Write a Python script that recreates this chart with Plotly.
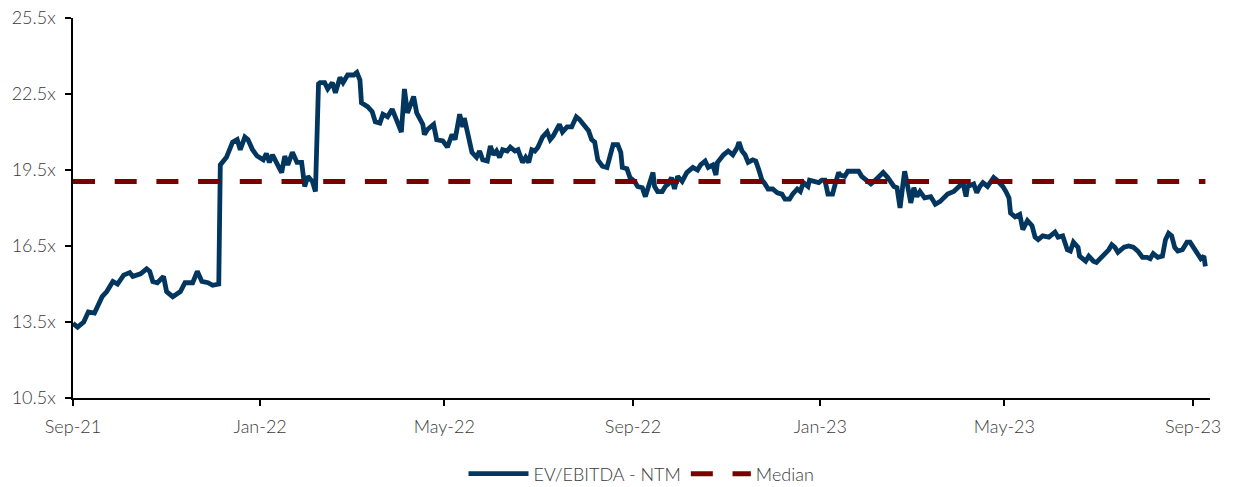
import plotly.graph_objects as go

dates = [
    "2021-09-01", "2021-09-04", "2021-09-08", "2021-09-11", "2021-09-15", "2021-09-20", "2021-09-23",
    "2021-09-27", "2021-09-30", "2021-10-04", "2021-10-08", "2021-10-10", "2021-10-15", "2021-10-19",
    "2021-10-21", "2021-10-23", "2021-10-26", "2021-10-30", "2021-11-01", "2021-11-05", "2021-11-10",
    "2021-11-13", "2021-11-18", "2021-11-21", "2021-11-24", "2021-11-28", "2021-12-01", "2021-12-05",
    "2021-12-06", "2021-12-10", "2021-12-14", "2021-12-17", "2021-12-19", "2021-12-22", "2021-12-24",
    "2021-12-27", "2021-12-30", "2022-01-03", "2022-01-05", "2022-01-07", "2022-01-09", "2022-01-13",
    "2022-01-15", "2022-01-17", "2022-01-19", "2022-01-22", "2022-01-25", "2022-01-28", "2022-01-30",
    "2022-02-01", "2022-02-04", "2022-02-06", "2022-02-08", "2022-02-09", "2022-02-12", "2022-02-14",
    "2022-02-17", "2022-02-19", "2022-02-22", "2022-02-24", "2022-02-27", "2022-03-03", "2022-03-05",
    "2022-03-07", "2022-03-08", "2022-03-12", "2022-03-15", "2022-03-17", "2022-03-20", "2022-03-22",
    "2022-03-25", "2022-03-28", "2022-03-30", "2022-04-01", "2022-04-03", "2022-04-05", "2022-04-07",
    "2022-04-11", "2022-04-13", "2022-04-17", "2022-04-18", "2022-04-20", "2022-04-24", "2022-04-26",
    "2022-04-30", "2022-05-03", "2022-05-06", "2022-05-08", "2022-05-11", "2022-05-13", "2022-05-14",
    "2022-05-17", "2022-05-19", "2022-05-22", "2022-05-24", "2022-05-26", "2022-05-29", "2022-05-31",
    "2022-06-02", "2022-06-04", "2022-06-06", "2022-06-08", "2022-06-11", "2022-06-13", "2022-06-16",
    "2022-06-18", "2022-06-21", "2022-06-23", "2022-06-25", "2022-06-27", "2022-06-29", "2022-07-01",
    "2022-07-04", "2022-07-07", "2022-07-09", "2022-07-11", "2022-07-14", "2022-07-15", "2022-07-17",
    "2022-07-20", "2022-07-23", "2022-07-26", "2022-07-28", "2022-08-01", "2022-08-03", "2022-08-05",
    "2022-08-07", "2022-08-09", "2022-08-12", "2022-08-15", "2022-08-17", "2022-08-19", "2022-08-22",
    "2022-08-24", "2022-08-25", "2022-08-28", "2022-08-30", "2022-09-02", "2022-09-04", "2022-09-07",
    "2022-09-09", "2022-09-11", "2022-09-12", "2022-09-14", "2022-09-15", "2022-09-17", "2022-09-20",
    "2022-09-22", "2022-09-24", "2022-09-26", "2022-09-28", "2022-09-30", "2022-10-03", "2022-10-06",
    "2022-10-10", "2022-10-13", "2022-10-15", "2022-10-18", "2022-10-20", "2022-10-23", "2022-10-25",
    "2022-10-26", "2022-10-30", "2022-11-02", "2022-11-05", "2022-11-08", "2022-11-09", "2022-11-11",
    "2022-11-13", "2022-11-15", "2022-11-18", "2022-11-20", "2022-11-22", "2022-11-24", "2022-11-26",
    "2022-11-28", "2022-12-01", "2022-12-04", "2022-12-07", "2022-12-09", "2022-12-12", "2022-12-14",
    "2022-12-17", "2022-12-19", "2022-12-21", "2022-12-24", "2022-12-25", "2022-12-27", "2022-12-31",
    "2023-01-02", "2023-01-04", "2023-01-06", "2023-01-09", "2023-01-11", "2023-01-13", "2023-01-14",
    "2023-01-17", "2023-01-19", "2023-01-22", "2023-01-26", "2023-01-28", "2023-02-01", "2023-02-03",
    "2023-02-05", "2023-02-08", "2023-02-11", "2023-02-14", "2023-02-16", "2023-02-18", "2023-02-20",
    "2023-02-22", "2023-02-24", "2023-02-25", "2023-02-27", "2023-03-01", "2023-03-03", "2023-03-05",
    "2023-03-07", "2023-03-10", "2023-03-14", "2023-03-17", "2023-03-20", "2023-03-23", "2023-03-25",
    "2023-03-29", "2023-04-01", "2023-04-04", "2023-04-06", "2023-04-07", "2023-04-11", "2023-04-13",
    "2023-04-15", "2023-04-17", "2023-04-20", "2023-04-24", "2023-04-26", "2023-04-30", "2023-05-02",
    "2023-05-04", "2023-05-05", "2023-05-08", "2023-05-11", "2023-05-13", "2023-05-16", "2023-05-19",
    "2023-05-21", "2023-05-23", "2023-05-26", "2023-05-30", "2023-06-01", "2023-06-03", "2023-06-05",
    "2023-06-08", "2023-06-11", "2023-06-13", "2023-06-15", "2023-06-18", "2023-06-19", "2023-06-23",
    "2023-06-25", "2023-06-28", "2023-06-30", "2023-07-03", "2023-07-06", "2023-07-08", "2023-07-10",
    "2023-07-12", "2023-07-14", "2023-07-18", "2023-07-21", "2023-07-24", "2023-07-27", "2023-07-30",
    "2023-08-02", "2023-08-04", "2023-08-06", "2023-08-09", "2023-08-12", "2023-08-14", "2023-08-16",
    "2023-08-18", "2023-08-20", "2023-08-22", "2023-08-25", "2023-08-28", "2023-08-30", "2023-09-01",
    "2023-09-04", "2023-09-06", "2023-09-08", "2023-09-09",
]

ev_ebitda = [
    13.45, 13.3, 13.5, 13.9, 13.85, 14.5, 14.7,
    15.1, 15.0, 15.35, 15.45, 15.3, 15.4, 15.6,
    15.5, 15.1, 15.05, 15.3, 14.7, 14.5, 14.7,
    15.05, 15.05, 15.5, 15.1, 15.05, 14.95, 15.0,
    19.7, 20.0, 20.6, 20.7, 20.3, 20.8, 20.7,
    20.3, 20.05, 19.9, 20.15, 19.8, 20.1, 19.6,
    19.4, 20.05, 19.7, 20.2, 19.8, 19.8, 18.85,
    19.25, 19.05, 18.65, 22.9, 22.95, 22.95, 22.7,
    22.95, 22.55, 23.15, 22.95, 23.25, 23.25, 23.35,
    23.05, 22.15, 22.0, 21.8, 21.4, 21.35, 21.7,
    21.6, 21.9, 21.55, 21.3, 21.0, 22.7, 21.75,
    22.4, 21.75, 21.3, 20.9, 21.1, 21.3, 20.7,
    20.65, 20.4, 20.9, 20.7, 21.7, 21.2, 21.55,
    20.6, 20.2, 20.0, 20.25, 19.9, 19.85, 20.45,
    20.1, 20.25, 20.0, 20.3, 20.25, 20.4, 20.25,
    20.3, 19.8, 20.0, 19.8, 20.3, 20.25, 20.4,
    20.8, 21.0, 20.7, 20.85, 21.2, 21.3, 21.0,
    21.2, 21.2, 21.6, 21.5, 21.2, 21.05, 20.7,
    20.6, 19.9, 19.65, 19.6, 20.1, 20.5, 20.5,
    20.2, 19.6, 19.55, 19.2, 19.05, 18.85, 18.8,
    18.45, 18.8, 19.0, 19.4, 18.85, 18.65, 18.65,
    18.85, 18.95, 19.2, 18.75, 19.25, 19.05, 19.4,
    19.6, 19.5, 19.7, 19.85, 19.6, 19.7, 19.3,
    19.8, 20.1, 20.25, 20.1, 20.4, 20.6, 20.25,
    20.1, 19.8, 19.9, 19.85, 19.5, 19.1, 18.95,
    18.75, 18.75, 18.6, 18.55, 18.35, 18.35, 18.55,
    18.75, 18.65, 19.0, 18.85, 19.1, 19.05, 19.0,
    19.1, 19.1, 18.55, 18.55, 19.0, 19.4, 19.3,
    19.25, 19.45, 19.45, 19.45, 19.25, 19.05, 18.95,
    19.05, 19.25, 19.4, 19.2, 19.05, 18.85, 18.8,
    18.0, 19.0, 19.45, 18.85, 18.2, 18.8, 18.45,
    18.65, 18.4, 18.45, 18.15, 18.25, 18.4, 18.55,
    18.65, 18.85, 19.0, 18.45, 18.85, 18.95, 18.6,
    18.85, 19.0, 18.85, 19.2, 19.1, 18.85, 18.65,
    18.4, 17.8, 17.65, 17.75, 17.15, 17.5, 17.3,
    16.85, 16.75, 16.9, 16.85, 16.95, 17.05, 16.85,
    16.9, 16.35, 16.3, 16.65, 16.45, 16.1, 15.9,
    16.1, 15.9, 15.85, 16.05, 16.2, 16.35, 16.55,
    16.45, 16.25, 16.45, 16.5, 16.45, 16.3, 16.05,
    16.05, 16.0, 16.2, 16.05, 16.1, 16.75, 17.0,
    16.9, 16.45, 16.3, 16.35, 16.65, 16.65, 16.45,
    16.2, 16.0, 16.1, 15.7,
]

median_value = 19.05

tick_dates = ["2021-09-01", "2022-01-01", "2022-05-01", "2022-09-01",
              "2023-01-01", "2023-05-01", "2023-09-01"]
tick_labels = ["Sep-21", "Jan-22", "May-22", "Sep-22", "Jan-23", "May-23", "Sep-23"]

y_ticks = [10.5, 13.5, 16.5, 19.5, 22.5, 25.5]

NAVY = "#02365F"
DARK_RED = "#7A0000"
TEXT = "#3A3A3A"
FONT = "Lato"

fig = go.Figure()
fig.add_trace(go.Scatter(
    x=dates, y=ev_ebitda, mode="lines", name="EV/EBITDA - NTM",
    line=dict(color=NAVY, width=4.8), hoverinfo="x+y",
))
fig.add_trace(go.Scatter(
    x=[dates[0], dates[-1]], y=[median_value, median_value], mode="lines", name="Median",
    line=dict(color=DARK_RED, width=5, dash="22px,19.7px"),
))

fig.update_layout(
    width=1234, height=487,
    margin=dict(l=73, r=24, t=18, b=89, autoexpand=False),
    paper_bgcolor="white", plot_bgcolor="white",
    font=dict(family=FONT, size=18, color=TEXT, weight=300),
    showlegend=True,
    legend=dict(orientation="h", x=0.5, xanchor="center", y=-0.2, yanchor="middle",
                font=dict(family=FONT, size=18, color=TEXT, weight=300), itemwidth=60,
                traceorder="normal"),
)
fig.update_xaxes(
    type="date", range=["2021-09-01", "2023-09-12"],
    tickvals=tick_dates, ticktext=tick_labels,
    showgrid=False, zeroline=False,
    showline=True, linecolor="black", linewidth=1.5,
    ticks="outside", ticklen=6, tickcolor="black", tickwidth=1.5,
    ticklabelstandoff=6,
    tickfont=dict(family=FONT, size=18, color=TEXT, weight=300),
)
fig.update_yaxes(
    range=[10.5, 25.5], tickvals=y_ticks,
    ticktext=[f"{v:.1f}x" for v in y_ticks],
    showgrid=False, zeroline=False,
    showline=True, linecolor="black", linewidth=1.5,
    ticks="outside", ticklen=6, tickcolor="black", tickwidth=1.5,
    ticklabelstandoff=6,
    tickfont=dict(family=FONT, size=18, color=TEXT, weight=300),
)

fig.write_html("out.html")
